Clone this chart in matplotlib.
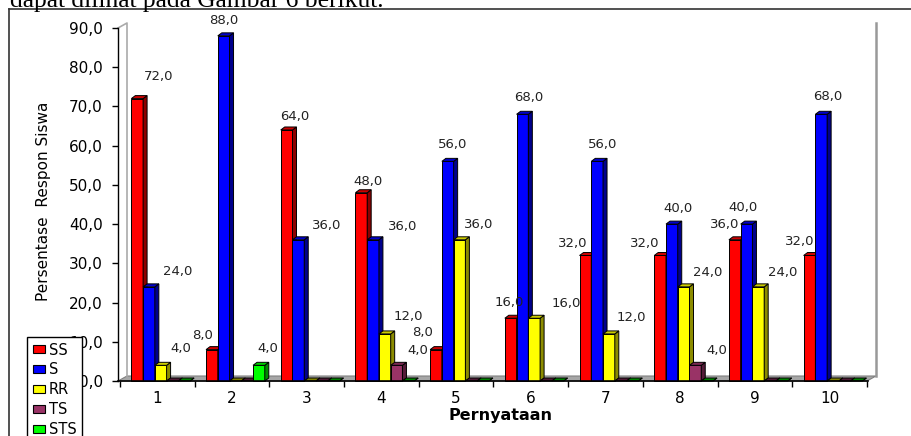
import numpy as np
import matplotlib.pyplot as plt
from matplotlib.patches import Polygon, Patch
from matplotlib.lines import Line2D
from matplotlib.colors import to_rgb

# persentase respon siswa per pernyataan
questions = [1, 2, 3, 4, 5, 6, 7, 8, 9, 10]
series_names = ['SS', 'S', 'RR', 'TS', 'STS']
ss = [72.0, 8.0, 64.0, 48.0, 8.0, 16.0, 32.0, 32.0, 36.0, 32.0]
s = [24.0, 88.0, 36.0, 36.0, 56.0, 68.0, 56.0, 40.0, 40.0, 68.0]
rr = [4.0, 0.0, 0.0, 12.0, 36.0, 16.0, 12.0, 24.0, 24.0, 0.0]
ts = [0.0, 0.0, 0.0, 4.0, 0.0, 0.0, 0.0, 4.0, 0.0, 0.0]
sts = [0.0, 4.0, 0.0, 0.0, 0.0, 0.0, 0.0, 0.0, 0.0, 0.0]
yticks = [0, 10, 20, 30, 40, 50, 60, 70, 80, 90]

series = [ss, s, rr, ts, sts]
colors = ['#FF0000', '#0000FF', '#FFFF00', '#993366', '#00FF00']

# label placement (pixels, from top-front of each bar)
label_off = [
    [(21, 22), (-9, 14), (8, 13), (7, 11), (-13, 17), (-1, 16), (-13, 12), (-15, 12), (-10, 15), (-10, 14)],
    [(29, 15), (0, 15), (28, 14), (30, 13), (5, 17), (6, 17), (5, 17), (6, 16), (-4, 17), (6, 18)],
    [(20, 17), (0, 0), (0, 0), (24, 17), (19, 15), (32, 15), (22, 16), (24, 14), (24, 14), (0, 0)],
    [(0, 0), (0, 0), (0, 0), (21, 15), (0, 0), (0, 0), (0, 0), (21, 15), (0, 0), (0, 0)],
    [(0, 0), (9, 17), (0, 0), (0, 0), (0, 0), (0, 0), (0, 0), (0, 0), (0, 0), (0, 0)],
]

W, H = 911, 436
fig = plt.figure(figsize=(W / 100, H / 100), dpi=100)
ax = fig.add_axes([118 / W, (H - 381) / H, 750 / W, 353 / H])
ax.set_xlim(0.5 - 2 / 74.7, 10.5 + 1 / 74.7)
ax.set_ylim(0, 90)

px_x = 74.7          # pixels per group
px_y = 353 / 90.0    # pixels per percent

def shade(c, f):
    r, g, b = to_rgb(c)
    return (r * f, g * f, b * f)

# floor and walls
wx, wy = 9 / px_x, 5 / px_y
x0, x1 = 0.5 - 2 / px_x, 10.5
ax.add_patch(Polygon([(x0, 0), (x1, 0), (x1 + wx, wy), (x0 + wx, wy)], closed=True,
                     facecolor='#a6a6a6', edgecolor='#808080', lw=0.8, clip_on=False, zorder=1))
ax.plot([x0, x0 + wx, x0 + wx], [90, 90 + wy, wy], color='#aaaaaa', lw=1.2, clip_on=False, zorder=1)
ax.plot([x1 + wx, x1 + wx], [wy, 90 + wy], color='#999999', lw=1.8, clip_on=False, zorder=1)

# 3d bars
bw = 11.75 / px_x
dx, dy = 4 / px_x, 3 / px_y
x = np.array(questions, dtype=float)
z = 3
for g in range(len(questions)):
    for i, vals in enumerate(series):
        v = vals[g]
        xc = x[g] + (i - 2) * bw + 0.045
        xl, xr = xc - bw / 2, xc + bw / 2
        col = colors[i]
        if v > 0:
            ax.bar(xc, v, width=bw, color=col, edgecolor='black', lw=0.7, zorder=z, clip_on=False)
        ax.add_patch(Polygon([(xr, 0), (xr + dx, dy), (xr + dx, v + dy), (xr, v)], closed=True,
                             facecolor=shade(col, 0.55), edgecolor='black', lw=0.7, zorder=z, clip_on=False))
        ax.add_patch(Polygon([(xl, v), (xr, v), (xr + dx, v + dy), (xl + dx, v + dy)], closed=True,
                             facecolor=shade(col, 0.8 if v > 0 else 0.5), edgecolor='black', lw=0.7,
                             zorder=z, clip_on=False))
        z += 1
        if v > 0:
            ox, oy = label_off[i][g]
            ax.annotate(f'{v:.1f}'.replace('.', ','), (xc, v), xytext=(ox, oy),
                        textcoords='offset pixels', ha='center', va='center',
                        fontsize=9.5, color='#222222', zorder=100, annotation_clip=False)

# axes
for side in ['top', 'right']:
    ax.spines[side].set_visible(False)
ax.spines['left'].set_linewidth(1.0)
ax.spines['bottom'].set_linewidth(1.2)
ax.spines['bottom'].set_zorder(200)
ax.set_yticks(yticks)
ax.set_yticklabels([f'{t:.1f}'.replace('.', ',') for t in yticks])
ax.tick_params(axis='y', length=4.3, width=1, pad=6.5, labelsize=11)
ax.set_xticks(np.arange(0.5, 11, 1.0))
ax.set_xticklabels([])
ax.set_xticks(questions, minor=True)
ax.set_xticklabels([str(q) for q in questions], minor=True)
ax.tick_params(axis='x', which='major', length=4, width=1, direction='out')
ax.tick_params(axis='x', which='minor', length=0, pad=7, labelsize=11)

fig.text(44 / W, 1 - 201 / H, 'Persentase  Respon Siswa', rotation=90, ha='center', va='center',
         fontsize=11)
fig.text(500 / W, 1 - 415 / H, 'Pernyataan', ha='center', va='center', fontsize=11.5,
         fontweight='bold')

handles = [Patch(facecolor=c, edgecolor='black', lw=0.8) for c in colors]
fig.legend(handles, series_names, loc='upper left', bbox_to_anchor=(27 / W, 1 - 337 / H),
           borderaxespad=0, fontsize=10.5, frameon=True, fancybox=False, edgecolor='black',
           framealpha=1, handlelength=0.85, handleheight=0.45, handletextpad=0.25,
           labelspacing=0.33, borderpad=0.38)

# surrounding frame and the document line above it
fig.add_artist(Line2D([8.5 / W, 1], [1 - 9.5 / H, 1 - 9.5 / H], color='#333333', lw=1.2))
fig.add_artist(Line2D([8.5 / W, 8.5 / W], [0, 1 - 9.5 / H], color='#333333', lw=1.2))
fig.text(10 / W, 1 - 6.5 / H, 'dapat dilihat pada Gambar 6 berikut.', ha='left', va='baseline',
         fontsize=18.4, family='Liberation Serif')

fig.savefig('out.png', dpi=100)
